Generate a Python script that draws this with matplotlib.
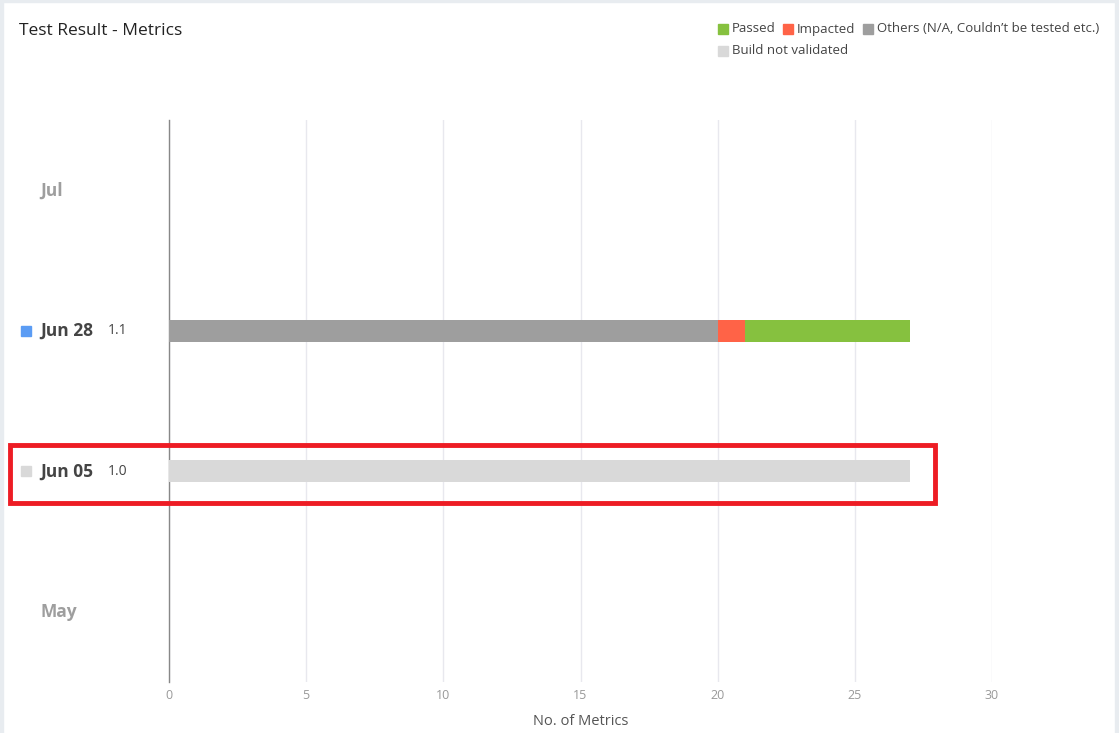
import matplotlib
matplotlib.use("Agg")
import matplotlib.pyplot as plt
from matplotlib.patches import Rectangle
from matplotlib.transforms import blended_transform_factory

plt.rcParams['font.family'] = ['Open Sans', 'DejaVu Sans']

# ---- data ----
categories = ["May", "Jun 05", "Jun 28", "Jul"]
versions = ["", "1.0", "1.1", ""]
marker_colors = [None, "#D9D9D9", "#5B9CF4", None]
label_colors = ["#9E9E9E", "#444444", "#444444", "#9E9E9E"]
others = [0, 0, 20, 0]
impacted = [0, 0, 1, 0]
passed = [0, 0, 6, 0]
not_validated = [0, 27, 0, 0]
xticks = [0, 5, 10, 15, 20, 25, 30]

series_names = ["Passed", "Impacted", "Others (N/A, Couldn\u2019t be tested etc.)", "Build not validated"]
series_colors = ["#86C13F", "#FF6347", "#9E9E9E", "#D9D9D9"]

W, H = 1119, 733
fig = plt.figure(figsize=(W / 100, H / 100), dpi=100)
fig.patch.set_facecolor("white")

def fx(px):
    return px / W

def fy(py):
    return 1 - py / H

# page border strips
fig.patches.append(Rectangle((0, 0), fx(3), 1, transform=fig.transFigure, color="#E8ECF0", zorder=0))
fig.patches.append(Rectangle((fx(1115), 0), fx(4), 1, transform=fig.transFigure, color="#E8ECF0", zorder=0))
fig.patches.append(Rectangle((0, fy(2)), 1, fy(0) - fy(2), transform=fig.transFigure, color="#E8ECF0", zorder=0))

ax = fig.add_axes([fx(169), fy(682), fx(992) - fx(169), fy(120) - fy(682)])
ax.set_xlim(0, 30)
ax.set_ylim(-0.5, 3.5)
ypos = list(range(len(categories)))
h = 0.16

ax.barh(ypos, others, height=h, color=series_colors[2], zorder=3)
ax.barh(ypos, impacted, left=others, height=h, color=series_colors[1], zorder=3)
left2 = [a + b for a, b in zip(others, impacted)]
ax.barh(ypos, passed, left=left2, height=h, color=series_colors[0], zorder=3)
ax.barh(ypos, not_validated, height=h, color=series_colors[3], zorder=3)

for s in ["top", "right", "bottom"]:
    ax.spines[s].set_visible(False)
ax.spines["left"].set_color("#888888")
ax.spines["left"].set_linewidth(1)
ax.set_xticks(xticks)
ax.set_xticklabels([str(t) for t in xticks])
ax.tick_params(axis="x", length=0, pad=5, labelsize=9, labelcolor="#999999")
ax.set_yticks([])
ax.grid(axis="x", color="#E8E8EE", linewidth=1, zorder=0)
ax.set_axisbelow(True)
ax.set_xlabel("No. of Metrics", fontsize=10.5, color="#555555", labelpad=9)

# y category labels
tr = blended_transform_factory(fig.transFigure, ax.transData)
for i, (cat, ver, mc, lc) in enumerate(zip(categories, versions, marker_colors, label_colors)):
    ax.text(fx(40), i, cat, transform=tr, fontsize=12.5, fontweight="bold", color=lc,
            va="center", ha="left")
    if ver:
        ax.text(fx(108), i, ver, transform=tr, fontsize=10, color="#444444",
                va="center", ha="left")
    if mc:
        ax.add_patch(Rectangle((fx(21), i - 0.036), fx(10), 0.072, transform=tr,
                               color=mc, clip_on=False))

# title
fig.text(fx(19), fy(31), "Test Result - Metrics", fontsize=12.5, color="#222222", va="center", ha="left")

# legend (manual)
leg_items = [(718, 29, 0), (783, 29, 1), (863, 29, 2), (718, 51, 3)]
for px, py, k in leg_items:
    fig.patches.append(Rectangle((fx(px), fy(py + 5)), fx(10), fy(py - 5) - fy(py + 5),
                                 transform=fig.transFigure, color=series_colors[k]))
    fig.text(fx(px + 14), fy(py), series_names[k], fontsize=9.5, color="#444444",
             va="center", ha="left")

# red highlight box
fig.patches.append(Rectangle((fx(10), fy(503)), fx(935) - fx(10), fy(445) - fy(503),
                             transform=fig.transFigure, fill=False, edgecolor="#ED1C24",
                             linewidth=3.5, zorder=10))

fig.savefig("out.png", dpi=100)
